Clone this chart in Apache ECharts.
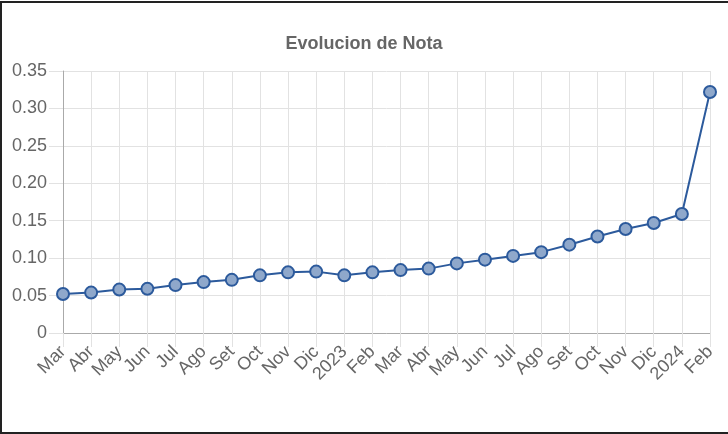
<!DOCTYPE html>
<html>
<head>
<meta charset="utf-8">
<script src="https://cdn.jsdelivr.net/npm/echarts@6/dist/echarts.min.js"></script>
<style>
  html, body { margin: 0; padding: 0; background: #fff; }
  #frame { position: absolute; left: 0; top: 1px; width: 732px; height: 429px;
           border-top: 2px solid #222; border-left: 2px solid #222; border-bottom: 2px solid #222; }
  #chart { position: absolute; left: 0; top: 0; width: 728px; height: 434px; }
</style>
</head>
<body>
<div id="frame"></div>
<div id="chart"></div>
<script>
// meses del eje x
var meses = ['Mar', 'Abr', 'May', 'Jun', 'Jul', 'Ago', 'Set', 'Oct', 'Nov', 'Dic', '2023',
             'Feb', 'Mar', 'Abr', 'May', 'Jun', 'Jul', 'Ago', 'Set', 'Oct', 'Nov', 'Dic', '2024', 'Feb'];
// valores de la nota
var nota = [0.052, 0.054, 0.058, 0.059, 0.064, 0.068, 0.071, 0.077, 0.081, 0.082, 0.077,
            0.081, 0.084, 0.086, 0.093, 0.098, 0.103, 0.108, 0.118, 0.129, 0.139, 0.147, 0.159, 0.322];

var myChart = echarts.init(document.getElementById('chart'));

var option = {
  animation: false,
  title: {
    text: 'Evolucion de Nota',
    left: 'center',
    top: 30,
    textStyle: { color: '#666', fontSize: 18, fontWeight: 'bold', fontFamily: 'Liberation Sans' }
  },
  grid: { left: 63, right: 18, top: 71, bottom: 101, containLabel: false },
  xAxis: {
    type: 'category',
    boundaryGap: false,
    data: meses,
    axisLine: { lineStyle: { color: '#aaa', width: 1 } },
    axisTick: { show: true, length: 14, lineStyle: { color: '#e2e2e2' } },
    splitLine: { show: true, lineStyle: { color: '#e2e2e2' } },
    axisLabel: { rotate: 45, margin: 16, interval: 0, color: '#666', fontSize: 18, fontFamily: 'Liberation Sans' }
  },
  yAxis: {
    type: 'value',
    min: 0,
    max: 0.35,
    interval: 0.05,
    axisLine: { show: true, lineStyle: { color: '#aaa', width: 1 } },
    axisTick: { show: true, length: 14, lineStyle: { color: '#e2e2e2' } },
    splitLine: { show: true, lineStyle: { color: '#e2e2e2' } },
    axisLabel: {
      margin: 16, color: '#666', fontSize: 18, fontFamily: 'Liberation Sans',
      formatter: function (v) { return v === 0 ? '0' : v.toFixed(2); }
    }
  },
  series: [{
    type: 'line',
    data: nota,
    symbol: 'circle',
    symbolSize: 12,
    lineStyle: { color: '#2c5a9c', width: 2 },
    itemStyle: { color: '#8fa8cb', borderColor: '#2c5a9c', borderWidth: 2 }
  }]
};

myChart.setOption(option);
</script>
</body>
</html>
